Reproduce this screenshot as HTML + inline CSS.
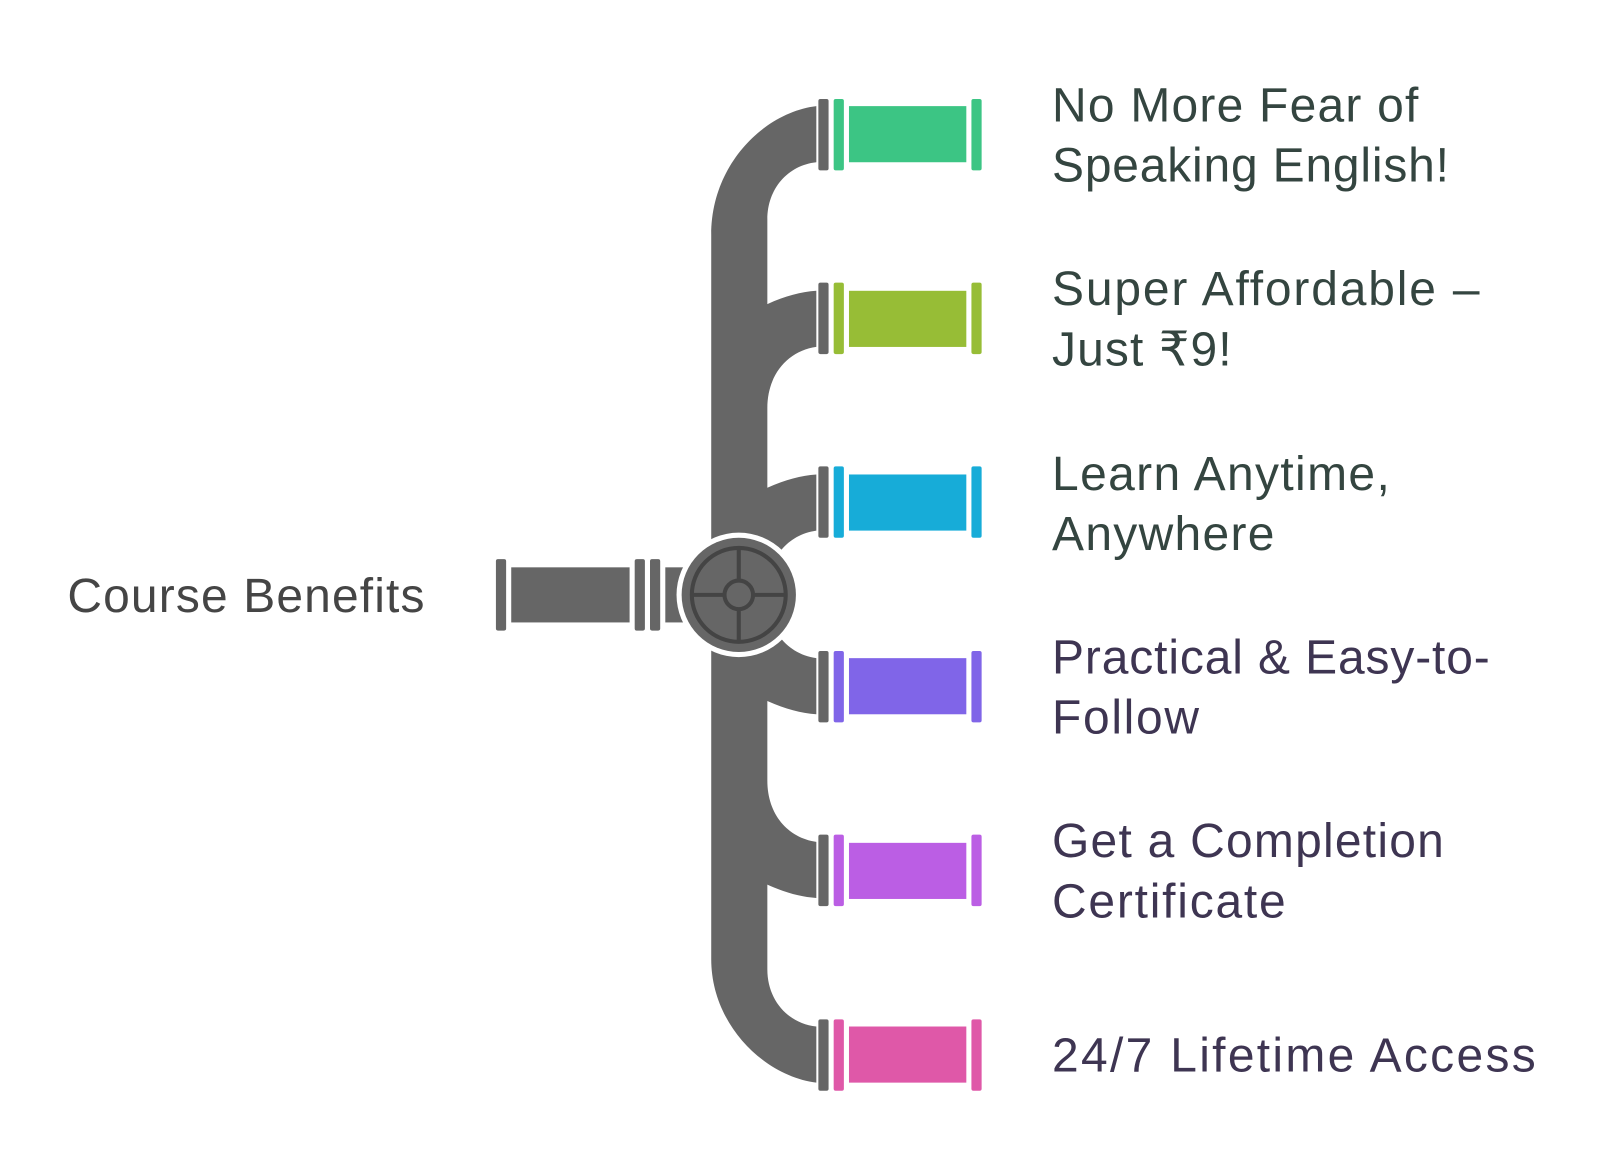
<!DOCTYPE html>
<html><head><meta charset="utf-8"><style>
html,body{margin:0;padding:0;background:#fff;}
svg{display:block;}
text{font-family:"Liberation Sans",sans-serif;font-size:47px;}
</style></head><body>
<svg width="1600" height="1151" viewBox="0 0 1568 1128" xmlns="http://www.w3.org/2000/svg">
<g fill="#666666">
  <rect x="486" y="548" width="10" height="70" rx="2"/>
  <rect x="501" y="556" width="116" height="54"/>
  <rect x="622" y="548" width="10" height="70" rx="2"/>
  <rect x="637" y="548" width="10" height="70" rx="2"/>
  <rect x="652" y="556" width="20" height="54"/>
  <path d="M697,230 C697,160 750,110 800,104 L800,159 C772,162 752,185 752,215
           L752,298 C770,290 785,286 800,285 L800,340 C772,344 752,367 752,400
           L752,478 C770,470 785,466 800,465 L800,520 C772,524 752,547 752,580
           L752,585 C752,618 772,641 800,645 L800,700 C785,699 770,695 752,687
           L752,765 C752,798 772,821 800,825 L800,880 C785,879 770,875 752,867
           L752,950 C752,980 772,1003 800,1006 L800,1061 C750,1055 697,1005 697,940 Z"/>
  <rect x="802" y="97" width="10" height="70" rx="2"/>
  <rect x="802" y="277" width="10" height="70" rx="2"/>
  <rect x="802" y="457" width="10" height="70" rx="2"/>
  <rect x="802" y="638" width="10" height="70" rx="2"/>
  <rect x="802" y="818" width="10" height="70" rx="2"/>
  <rect x="802" y="999" width="10" height="70" rx="2"/>
</g>
<circle cx="724" cy="583" r="61" fill="#fff"/>
<circle cx="724" cy="583" r="56" fill="#666"/>
<g fill="none" stroke="#444" stroke-width="4">
  <circle cx="724" cy="583" r="46"/>
  <circle cx="724" cy="583" r="14"/>
  <line x1="678" y1="583" x2="710" y2="583"/>
  <line x1="738" y1="583" x2="770" y2="583"/>
  <line x1="724" y1="537" x2="724" y2="569"/>
  <line x1="724" y1="597" x2="724" y2="629"/>
</g>
<g fill="#3cc584">
  <rect x="817" y="97" width="10" height="70" rx="2"/><rect x="832" y="104" width="115" height="55"/><rect x="952" y="97" width="10" height="70" rx="2"/>
</g>
<g fill="#97bd36">
  <rect x="817" y="277" width="10" height="70" rx="2"/><rect x="832" y="285" width="115" height="55"/><rect x="952" y="277" width="10" height="70" rx="2"/>
</g>
<g fill="#17acd8">
  <rect x="817" y="457" width="10" height="70" rx="2"/><rect x="832" y="465" width="115" height="55"/><rect x="952" y="457" width="10" height="70" rx="2"/>
</g>
<g fill="#8065e8">
  <rect x="817" y="638" width="10" height="70" rx="2"/><rect x="832" y="645" width="115" height="55"/><rect x="952" y="638" width="10" height="70" rx="2"/>
</g>
<g fill="#bb5ee4">
  <rect x="817" y="818" width="10" height="70" rx="2"/><rect x="832" y="826" width="115" height="55"/><rect x="952" y="818" width="10" height="70" rx="2"/>
</g>
<g fill="#df58a8">
  <rect x="817" y="999" width="10" height="70" rx="2"/><rect x="832" y="1006" width="115" height="55"/><rect x="952" y="999" width="10" height="70" rx="2"/>
</g>
<text x="66" y="600" fill="#454545" textLength="350" lengthAdjust="spacing">Course Benefits</text>
<g fill="#344540">
  <text x="1031" y="119" textLength="359" lengthAdjust="spacing">No More Fear of</text>
  <text x="1031" y="178" textLength="389" lengthAdjust="spacing">Speaking English!</text>
  <text x="1031" y="299" textLength="419" lengthAdjust="spacing">Super Affordable –</text>
  <text x="1031" y="358" textLength="176" lengthAdjust="spacing">Just ₹9!</text>
  <text x="1031" y="480" textLength="331" lengthAdjust="spacing">Learn Anytime,</text>
  <text x="1031" y="539" textLength="218" lengthAdjust="spacing">Anywhere</text>
</g>
<g fill="#3e3552">
  <text x="1031" y="660" textLength="429" lengthAdjust="spacing">Practical &amp; Easy-to-</text>
  <text x="1031" y="719" textLength="144" lengthAdjust="spacing">Follow</text>
  <text x="1031" y="840" textLength="384" lengthAdjust="spacing">Get a Completion</text>
  <text x="1031" y="899" textLength="229" lengthAdjust="spacing">Certificate</text>
  <text x="1031" y="1050" textLength="474" lengthAdjust="spacing">24/7 Lifetime Access</text>
</g>
</svg>
</body></html>
